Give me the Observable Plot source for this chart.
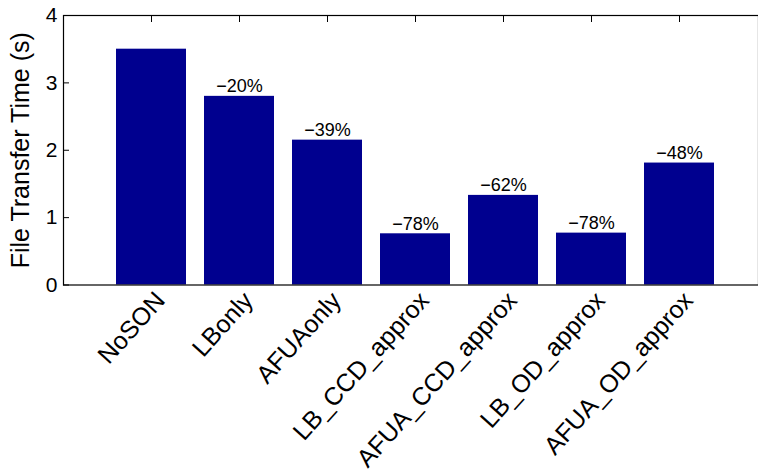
<!DOCTYPE html>
<html><head><meta charset="utf-8">
<script src="https://cdn.jsdelivr.net/npm/d3@7"></script>
<script src="https://cdn.jsdelivr.net/npm/@observablehq/plot@0.6"></script>
<style>body{margin:0;overflow:hidden;background:#fff} svg{overflow:hidden}</style>
</head><body><div id="chart"></div>
<script>
const categories = ["NoSON","LBonly","AFUAonly","LB_CCD_approx","AFUA_CCD_approx","LB_OD_approx","AFUA_OD_approx"];
const times = [3.5, 2.8, 2.15, 0.76, 1.33, 0.77, 1.81];
const reductions = ["", "\u221220%", "\u221239%", "\u221278%", "\u221262%", "\u221278%", "\u221248%"];
const yTicks = [0, 1, 2, 3, 4];
const yTitle = "File Transfer Time (s)";

const data = categories.map((c, i) => ({category: c, time: times[i], label: reductions[i]}));
const font = "Helvetica, Arial, 'Liberation Sans', sans-serif";

const chart = Plot.plot({
  width: 758, height: 476,
  marginLeft: 63, marginTop: 15, marginBottom: 191.5, marginRight: 0,
  style: {fontFamily: font, background: "white", color: "black"},
  x: {domain: categories, range: [63, 767], paddingInner: 0.2, paddingOuter: 0.6, label: null},
  y: {domain: [0, 4], label: null},
  marks: [
    Plot.barY(data, {x: "category", y: "time", fill: "#00008f"}),
    Plot.frame({stroke: "black", strokeWidth: 1.2}),
    Plot.axisY({ticks: yTicks, tickSize: -6, tickFormat: () => "", label: null}),
    Plot.axisY({ticks: yTicks, tickSize: 0, tickPadding: 6, fontSize: 21, tickFormat: d3.format("d"), label: null}),
    Plot.axisY({ticks: [], tickSize: 0, fontSize: 25,
      label: yTitle, labelAnchor: "center", labelOffset: 52, labelArrow: "none"}),
    Plot.axisX({anchor: "top", tickSize: -6, tickFormat: () => "", label: null}),
    Plot.text(data, {x: "category", y: "time", text: "label", dy: -4, lineAnchor: "bottom", fontSize: 18}),
    Plot.text(data, {x: "category", y: () => 0, text: "category", rotate: -48, textAnchor: "end", lineAnchor: "middle", dx: 9, dy: 11, fontSize: 25})
  ]
});
document.getElementById("chart").append(chart);
</script>
</body></html>
